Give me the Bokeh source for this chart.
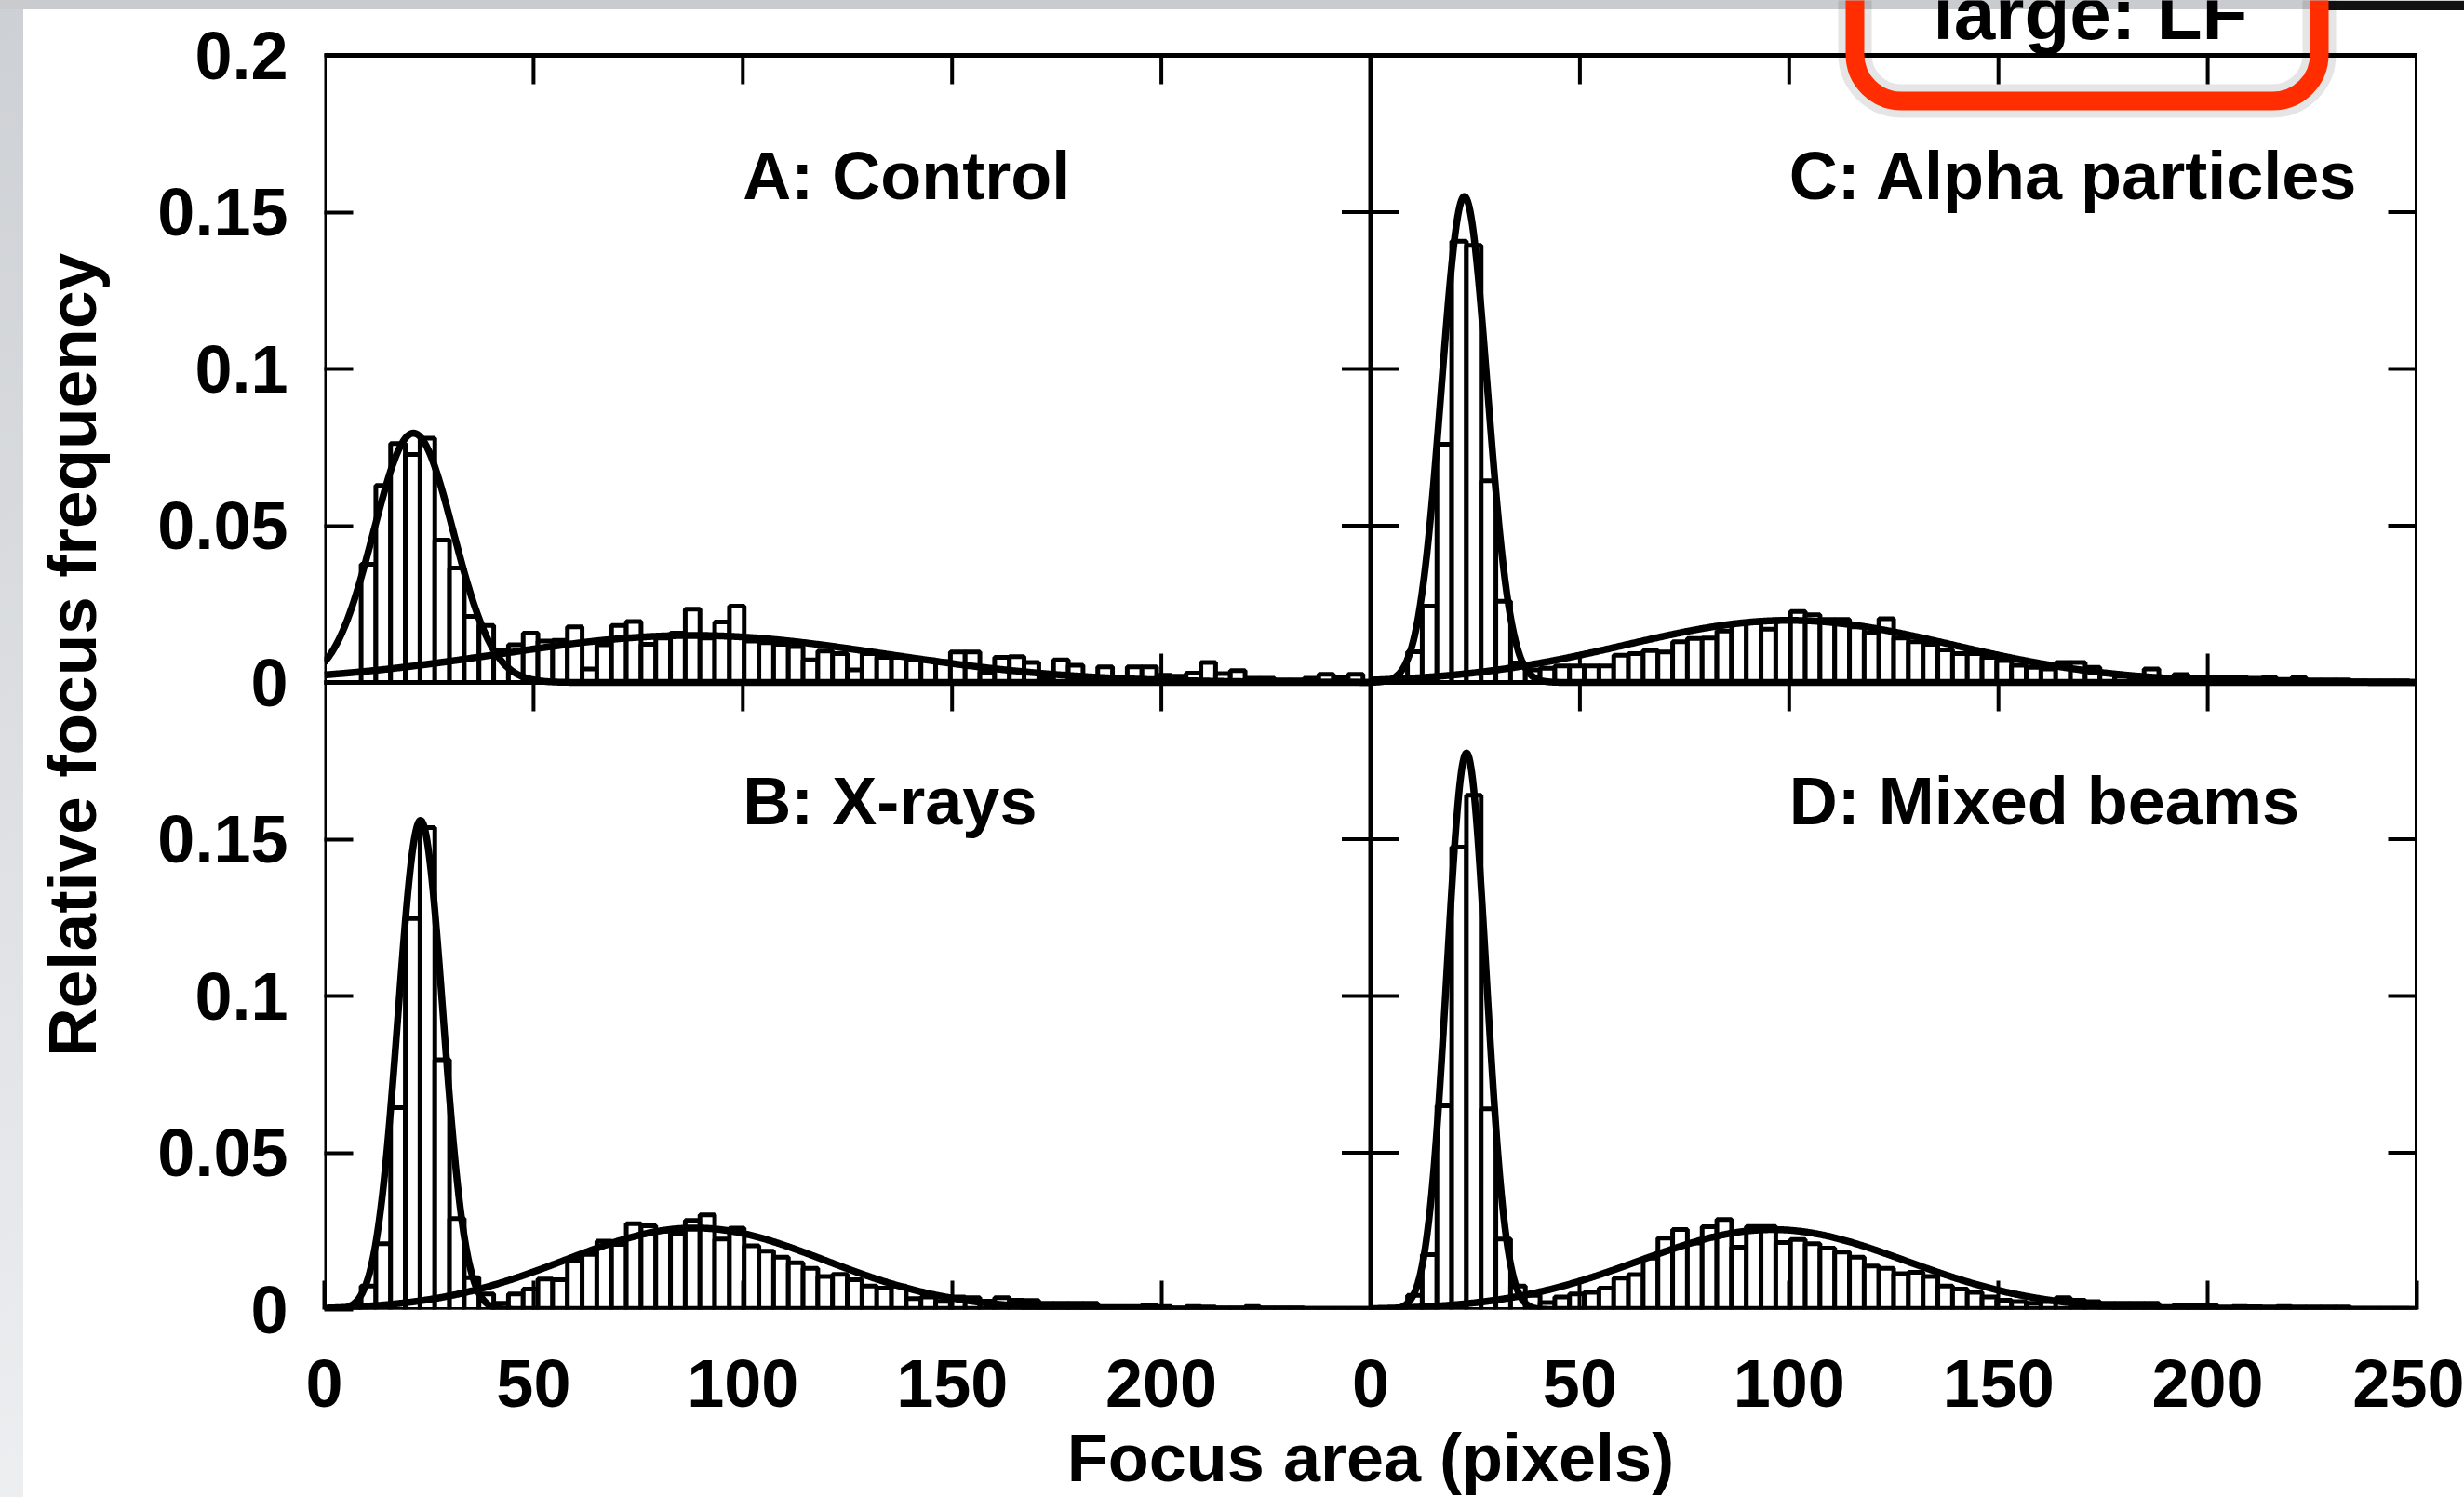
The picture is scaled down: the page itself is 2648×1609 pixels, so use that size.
import numpy as np
from bokeh.plotting import figure
from bokeh.models import Range1d, FixedTicker, Label, BoxAnnotation
from bokeh.embed import file_html
from bokeh.resources import INLINE

# ---------------- data ----------------
BIN_WIDTH = 3.52  # focus-area bin width (pixels); bins centred on k*BIN_WIDTH

panel_titles = ["A: Control", "B: X-rays", "C: Alpha particles", "D: Mixed beams"]

freq_a = [0, 0, 0, 0.0377, 0.0628, 0.0762, 0.0727, 0.0779, 0.0454, 0.0365,
          0.0211, 0.0182, 0.0102, 0.0120, 0.0157, 0.0132, 0.0134, 0.0177, 0.0043, 0.0120,
          0.0182, 0.0194, 0.0122, 0.0142, 0.0157, 0.0234, 0.0142, 0.0193, 0.0243, 0.0132,
          0.0127, 0.0122, 0.0114, 0.0072, 0.0100, 0.0092, 0.0040, 0.0092, 0.0080, 0.0080,
          0.0074, 0.0072, 0.0067, 0.0097, 0.0097, 0.0033, 0.0080, 0.0082, 0.0064, 0.0013,
          0.0072, 0.0055, 0.0013, 0.0050, 0.0013, 0.0050, 0.0050, 0.0023, 0.0020, 0.0030,
          0.0064, 0.0028, 0.0038, 0.0013, 0.0013, 0.0008, 0.0008, 0.0013, 0.0026, 0.0018,
          0.0026]

freq_b = [0, 0, 0, 0.0075, 0.0210, 0.0644, 0.1247, 0.1537, 0.0797, 0.0290,
          0.0102, 0.0050, 0.0020, 0.0050, 0.0065, 0.0097, 0.0095, 0.0157, 0.0176, 0.0218,
          0.0208, 0.0274, 0.0267, 0.0250, 0.0240, 0.0284, 0.0302, 0.0225, 0.0260, 0.0203,
          0.0186, 0.0167, 0.0149, 0.0131, 0.0105, 0.0112, 0.0095, 0.0075, 0.0068, 0.0075,
          0.0035, 0.0040, 0.0026, 0.0040, 0.0038, 0.0027, 0.0038, 0.0030, 0.0029, 0.0020,
          0.0020, 0.0020, 0.0020, 0.0010, 0.0010, 0.0010, 0.0015, 0.0010, 0.0005, 0.0010,
          0.0008, 0.0005, 0.0005, 0.0010, 0.0005, 0.0005, 0.0005, 0.0003, 0.0003, 0.0003,
          0.0003]

freq_c = [0, 0, 0, 0.0098, 0.0243, 0.0760, 0.1407, 0.1394, 0.0643, 0.0259,
          0.0062, 0.0040, 0.0045, 0.0053, 0.0053, 0.0053, 0.0053, 0.0087, 0.0092, 0.0102,
          0.0097, 0.0130, 0.0140, 0.0142, 0.0164, 0.0187, 0.0191, 0.0170, 0.0200, 0.0226,
          0.0216, 0.0201, 0.0201, 0.0177, 0.0157, 0.0203, 0.0142, 0.0130, 0.0122, 0.0104,
          0.0092, 0.0092, 0.0080, 0.0070, 0.0055, 0.0048, 0.0043, 0.0064, 0.0064, 0.0048,
          0.0028, 0.0020, 0.0020, 0.0043, 0.0018, 0.0025, 0.0015, 0.0015, 0.0017, 0.0017,
          0.0013, 0.0015, 0.0010, 0.0015, 0.0008, 0.0008, 0.0008, 0.0005, 0.0005, 0.0005,
          0.0005]

freq_d = [0, 0, 0, 0.0045, 0.0175, 0.0650, 0.1475, 0.1640, 0.0640, 0.0225,
          0.0075, 0.0045, 0.0022, 0.0040, 0.0050, 0.0055, 0.0068, 0.0100, 0.0111, 0.0164,
          0.0228, 0.0255, 0.0212, 0.0264, 0.0287, 0.0199, 0.0265, 0.0265, 0.0214, 0.0223,
          0.0210, 0.0196, 0.0183, 0.0167, 0.0139, 0.0131, 0.0114, 0.0119, 0.0105, 0.0075,
          0.0065, 0.0055, 0.0040, 0.0030, 0.0025, 0.0020, 0.0025, 0.0038, 0.0030, 0.0025,
          0.0020, 0.0020, 0.0020, 0.0020, 0.0010, 0.0015, 0.0012, 0.0012, 0.0008, 0.0010,
          0.0009, 0.0008, 0.0010, 0.0008, 0.0008, 0.0008, 0.0008, 0.0004, 0.0004, 0.0004,
          0.0004]

# Gaussian fits drawn over each histogram: (amplitude, centre, sigma)
fit_a = [(0.0795, 21.3, 9.5), (0.0150, 88.0, 46.0)]
fit_b = [(0.1560, 23.0, 5.35), (0.0260, 88.5, 31.0)]
fit_c = [(0.1550, 22.4, 5.5), (0.0198, 100.0, 39.0)]
fit_d = [(0.1775, 22.9, 4.7), (0.0255, 96.0, 32.0)]

x_ticks = [0, 50, 100, 150, 200, 250]
y_ticks = [0, 0.05, 0.1, 0.15, 0.2]

# ---------------- layout: 2x2 panels sharing one frame ----------------
X_SPAN = x_ticks[-1]
Y_SPAN = y_ticks[-1]
panels = [
    (freq_a, fit_a, panel_titles[0], 0.0, Y_SPAN),
    (freq_b, fit_b, panel_titles[1], 0.0, 0.0),
    (freq_c, fit_c, panel_titles[2], X_SPAN, Y_SPAN),
    (freq_d, fit_d, panel_titles[3], X_SPAN, 0.0),
]

W, H = 2648, 1609
ML, MR, MB = 348, 51, 202
PLOT_TOP = 59                      # pixel row of the top of the panels
FW = W - ML - MR
px_x = FW / (2 * X_SPAN)
px_y = (H - MB - PLOT_TOP) / (2 * Y_SPAN)
Y_END = 2 * Y_SPAN + PLOT_TOP / px_y   # frame reaches the top of the page


def ypx(row):
    """data y for a pixel row (from top of page)"""
    return (H - MB - row) / px_y


def xpx(col):
    return (col - ML) / px_x


FONT = "Liberation Sans"
p = figure(width=W, height=H, x_range=Range1d(0, 2 * X_SPAN), y_range=Range1d(0, Y_END),
           output_backend="svg", toolbar_location=None,
           min_border_left=ML, min_border_right=MR, min_border_top=0, min_border_bottom=MB)
p.styles = {
    "background-color": "#ffffff",
    "background-image": "linear-gradient(#111111,#111111), linear-gradient(#c9cbcf,#c9cbcf), "
                        "linear-gradient(to bottom, #cdd0d4, #eceef0)",
    "background-position": "2501px 1px, 0 0, 0 0",
    "background-size": "147px 10px, 100% 10px, 25px 100%",
    "background-repeat": "no-repeat",
}
p.border_fill_alpha = 0
p.background_fill_alpha = 0
p.outline_line_color = None
p.xgrid.visible = False
p.ygrid.visible = False

# axes
all_x = x_ticks + [t + X_SPAN for t in x_ticks[1:]]
all_y = [0, 0.05, 0.1, 0.15, 0.2, 0.25, 0.3, 0.35, 0.4]
y_labels = ["0", "0.05", "0.1", "0.15", "0", "0.05", "0.1", "0.15", "0.2"]
x_labels = [str(t) for t in x_ticks] + [str(t) for t in x_ticks[1:]]
x_labels[len(x_ticks) - 1] = "0"

TICK = 31
for ax in (p.xaxis[0], p.yaxis[0]):
    ax.major_tick_in = TICK
    ax.major_tick_out = 0
    ax.minor_tick_in = 0
    ax.minor_tick_out = 0
    ax.major_tick_line_width = 4
    ax.axis_line_color = None
    ax.major_label_text_font = FONT
    ax.major_label_text_font_style = "bold"
    ax.major_label_text_font_size = "72px"
    ax.major_label_text_color = "black"
    ax.axis_label_text_font = FONT
    ax.axis_label_text_font_style = "bold"
    ax.axis_label_text_font_size = "72px"
    ax.axis_label_text_color = "black"

p.xaxis[0].ticker = FixedTicker(ticks=all_x)
p.xaxis[0].major_label_overrides = {t: l for t, l in zip(all_x, x_labels)}
p.xaxis[0].major_label_standoff = 54
p.xaxis[0].axis_label = "Focus area (pixels)"
p.xaxis[0].axis_label_standoff = 12

p.yaxis[0].ticker = FixedTicker(ticks=all_y)
p.yaxis[0].major_label_overrides = {t: l for t, l in zip(all_y, y_labels)}
p.yaxis[0].major_label_standoff = 39
p.yaxis[0].axis_label = "Relative focus frequency"
p.yaxis[0].axis_label_text_font_size = "73px"
p.yaxis[0].axis_label_standoff = 48

# panel frame and divider lines
p.quad(left=0, right=2 * X_SPAN, bottom=0, top=2 * Y_SPAN, fill_color=None,
       line_color="black", line_width=5)
p.segment(x0=[X_SPAN, 0], y0=[0, Y_SPAN], x1=[X_SPAN, 2 * X_SPAN], y1=[2 * Y_SPAN, Y_SPAN],
          line_color="black", line_width=5)

# inward ticks on top edge, right edge, and both divider lines
tx = TICK / px_x
ty = TICK / px_y
inner_x = [t for t in all_x if 0 < t < 2 * X_SPAN and t != X_SPAN]
inner_y = [t for t in all_y if 0 < t < 2 * Y_SPAN and t != Y_SPAN]
x0s, x1s, y0s, y1s = [], [], [], []
for t in inner_x:
    x0s += [t, t]; x1s += [t, t]
    y0s += [2 * Y_SPAN, Y_SPAN - ty]; y1s += [2 * Y_SPAN - ty, Y_SPAN + ty]
for t in inner_y:
    y0s += [t, t]; y1s += [t, t]
    x0s += [2 * X_SPAN, X_SPAN - tx]; x1s += [2 * X_SPAN - tx, X_SPAN + tx]
p.segment(x0=x0s, y0=y0s, x1=x1s, y1=y1s, line_color="black", line_width=4)

# histograms and fits
xs_fit = np.linspace(0, X_SPAN, 1201)
for freq, fit, title, xo, yo in panels:
    centers = np.arange(len(freq)) * BIN_WIDTH
    p.quad(left=centers - BIN_WIDTH / 2 + xo, right=centers + BIN_WIDTH / 2 + xo,
           bottom=[yo] * len(freq), top=np.array(freq) + yo,
           fill_color="white", line_color="black", line_width=5)
for freq, fit, title, xo, yo in panels:
    for amp, mu, sig in fit:
        ys = amp * np.exp(-((xs_fit - mu) ** 2) / (2 * sig ** 2))
        p.line(xs_fit + xo, ys + yo, line_color="black", line_width=7.5, line_join="round")
    row = 860 if yo == 0 else 188
    p.add_layout(Label(x=xo + 100, y=ypx(row), text=title,
                       text_align="left", text_baseline="alphabetic", text_font=FONT,
                       text_font_style="bold", text_font_size="72px", text_color="black"))

# slide annotation: red hand-drawn box around "large: LF" at the top
p.add_layout(BoxAnnotation(left=xpx(1993), right=xpx(2492), bottom=ypx(108), top=ypx(-80),
                           fill_alpha=0, line_color="#000000", line_alpha=0.10, line_width=36,
                           border_radius=50))
p.add_layout(BoxAnnotation(left=xpx(1993), right=xpx(2492), bottom=ypx(108), top=ypx(-80),
                           fill_alpha=0, line_color="#ff2d00", line_alpha=1.0, line_width=20,
                           border_radius=50))
p.add_layout(Label(x=xpx(2246), y=ypx(14), text="large: LF",
                   text_align="center", text_baseline="alphabetic", text_font=FONT,
                   text_font_style="bold", text_font_size="80px", text_color="black"))

open("out.html", "w").write(file_html(p, INLINE))
